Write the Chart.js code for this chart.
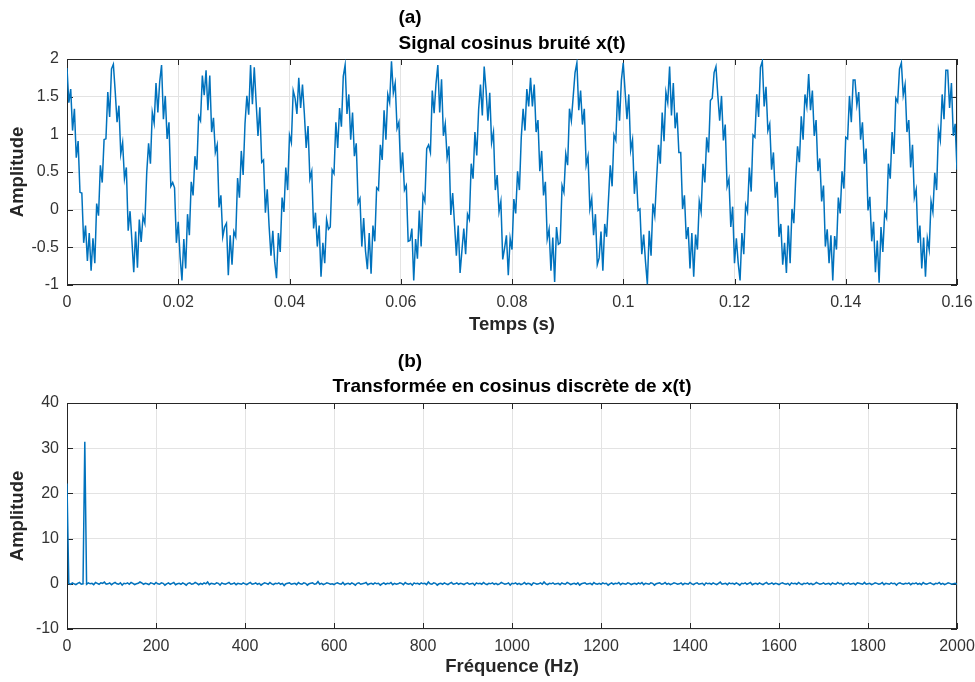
<!DOCTYPE html>
<html>
<head>
<meta charset="utf-8">
<title>Signal cosinus bruité et DCT</title>
<script src="https://cdn.jsdelivr.net/npm/chart.js@4.4.0/dist/chart.umd.min.js"></script>
<style>
    html, body { margin: 0; padding: 0; background: #fff; }
    #wrap { position: relative; width: 975px; height: 682px; }
    .panel { position: absolute; left: 0; width: 975px; }
</style>
</head>
<body>
<div id="wrap">
    <div class="panel" style="top:0;height:340px"><canvas id="signalChart" width="975" height="340"></canvas></div>
    <div class="panel" style="top:340px;height:342px"><canvas id="dctChart" width="975" height="342"></canvas></div>
</div>
<script>
// Sampling step of the time signal (s) and of the DCT frequency axis (Hz)
const SAMPLE_STEP = 1 / 3000;
const FREQ_STEP = 4;

// Noisy cosine x(t), one row per period
const signalValues = [
    1.88,1.42,1.60,1.05,1.34,0.69,0.91,0.23,0.22,-0.44,-0.21,-0.68,-0.31,-0.81,-0.38,-0.71,0.08,-0.08,0.59,0.36,0.93,0.94,1.56,1.23,1.87,
    1.93,1.57,1.16,1.38,0.74,0.89,0.41,0.56,-0.28,-0.02,-0.41,-0.83,-0.29,-0.77,-0.13,-0.43,-0.09,-0.18,0.49,0.88,0.61,1.29,1.15,1.68,1.29,
    1.70,1.92,1.20,1.51,0.94,1.16,0.31,0.36,0.29,-0.44,-0.16,-0.63,-0.94,-0.39,-0.78,-0.06,-0.34,0.37,0.19,0.71,0.53,1.24,1.18,1.78,1.52,
    1.85,1.32,1.78,1.03,1.22,0.76,0.86,0.03,0.19,-0.36,-0.23,-0.18,-0.87,-0.34,-0.73,-0.29,-0.36,0.42,0.16,0.78,0.46,1.14,1.51,1.26,1.92,
    1.40,1.89,1.43,0.98,1.36,0.63,0.66,-0.04,0.27,-0.22,-0.61,-0.28,-0.69,-0.91,-0.31,-0.56,0.16,-0.03,0.56,0.26,0.99,0.89,1.58,1.48,1.27,
    1.75,1.35,1.66,1.28,0.82,1.11,0.41,0.51,-0.25,-0.04,-0.49,-0.21,-0.89,-0.44,-0.71,-0.13,-0.26,-0.23,0.53,0.48,1.16,0.82,1.35,1.10,1.77,
    1.92,1.27,1.53,0.93,1.29,0.71,0.88,0.09,0.15,-0.49,-0.11,-0.55,-0.79,-0.31,-0.85,-0.21,-0.42,0.29,0.26,0.86,0.66,1.32,0.93,1.53,1.42,
    1.97,1.55,1.68,1.08,1.16,0.49,0.76,0.26,0.32,-0.42,-0.41,-0.25,-0.94,-0.39,-0.65,-0.01,-0.49,0.19,0.11,0.81,0.86,0.76,1.58,1.28,1.67,
    1.92,1.29,1.73,0.98,1.14,0.69,0.84,-0.07,0.22,-0.19,-0.61,-0.21,-0.84,-0.54,-0.25,-0.59,-0.06,-0.13,0.61,0.41,1.03,0.72,1.33,1.66,1.25,
    1.90,1.59,1.18,1.55,0.89,1.03,0.26,0.46,-0.03,0.11,-0.66,-0.51,-0.34,-0.87,-0.38,-0.53,0.14,-0.05,0.51,0.26,0.96,1.34,1.05,1.60,1.37,
    1.75,1.37,1.66,1.03,1.19,0.51,0.78,0.19,0.37,-0.39,-0.26,-0.81,-0.37,-0.96,-0.23,-0.46,-0.44,0.32,0.23,0.74,0.59,1.34,1.18,1.50,1.82,
    1.95,1.32,1.58,1.13,1.34,0.59,0.71,0.01,0.15,-0.34,-0.06,-0.73,-0.64,-0.29,-0.81,-0.19,-0.36,0.12,0.59,0.31,0.99,0.92,1.58,1.18,1.72,
    1.95,1.57,1.20,1.53,0.79,0.93,0.21,0.51,-0.01,0.01,-0.59,-0.33,-0.69,-0.99,-0.28,-0.61,0.08,-0.08,0.41,0.86,0.61,1.29,0.91,1.56,1.42,
    1.90,1.25,1.68,1.08,1.29,0.76,0.76,0.01,0.19,-0.39,-0.23,-0.78,-0.31,-0.89,-0.33,-0.53,0.11,-0.03,0.61,0.36,0.96,0.76,1.45,1.48,1.82,
    1.90,1.52,1.18,1.51,0.92,1.13,0.31,0.41,-0.23,0.04,-0.71,-0.38,-0.71,-0.94,-0.31,-0.59,0.06,-0.03,0.56,0.24,0.99,0.96,1.53,1.23,1.89,
    1.97,1.37,1.63,1.05,1.14,0.53,0.76,0.16,0.37,-0.36,-0.19,-0.73,-0.44,-0.84,-0.21,-0.71,0.01,-0.18,0.41,0.84,0.63,1.24,0.93,1.53,1.37,
    1.80,1.32,1.58,0.98,1.19,0.51,0.68,0.11,0.32,-0.49,-0.26,-0.71,-0.34,-0.94,-0.35,-0.53,0.16,-0.05,0.51,0.28,0.96,0.94,1.51,1.16,1.72,
    1.72,1.39,1.56,0.93,1.16,0.61,0.81,-0.01,0.17,-0.42,-0.16,-0.83,-0.41,-0.97,-0.23,-0.56,-0.04,-0.11,0.61,0.41,1.03,0.74,1.48,1.43,1.87,
    1.95,1.52,1.66,1.03,1.19,0.56,0.86,0.16,0.27,-0.44,-0.21,-0.78,-0.37,-0.89,-0.38,-0.53,0.11,-0.03,0.49,0.26,1.06,0.92,1.53,1.20,1.85,
    1.85,1.35,1.68,0.98,1.14,0.53
];

// DCT amplitudes, every 4 Hz from 0 to 2000 Hz
const dctValues = [
    22.2,0.1,-0.1,0.2,0,-0.2,0.1,0.3,-0.1,0,31.4,-0.1,0.2,0,0.1,-0.2,0.3,0.1,-0.1,0.2,0.1,0.4,-0.1,0,0.2,
    -0.2,0.1,0.3,0,-0.1,0.2,-0.3,0.1,0,0.2,-0.1,0.3,0.1,-0.2,0,0.1,0.4,0.2,-0.1,0.1,0,-0.2,0.2,0.1,-0.1,
    0.3,0,-0.1,0.2,0.1,-0.3,0,0.2,-0.1,0.1,0.3,-0.2,0,0.1,-0.1,0.2,0,-0.3,0.1,0.2,-0.1,0,0.3,0.1,-0.2,
    0.1,-0.1,0.2,0,0.4,-0.2,0.1,0,-0.1,0.2,0.1,-0.3,0.2,0,-0.1,0.1,0.3,-0.1,0,0.2,-0.2,0.1,0,-0.1,0.2,
    0,-0.2,0.1,0.3,-0.1,0,0.2,-0.1,0.1,-0.3,0,0.2,0.1,-0.1,0.3,0,-0.2,0.1,0,0.2,-0.1,0.1,-0.4,0,0.1,
    0.2,-0.1,0,0.1,-0.2,0.3,0,-0.1,0.2,0.1,-0.3,0,0.1,0.2,-0.1,0,0.5,-0.1,0.1,-0.2,0,0.2,0.1,-0.1,0,
    -0.2,0.1,0.2,0,-0.1,0.3,-0.2,0,0.1,-0.1,0.2,0,-0.3,0.1,0.2,-0.1,0,0.1,0.3,-0.2,0,0.1,-0.1,0.2,0,
    0.1,-0.3,0,0.2,-0.1,0.1,0,0.3,-0.2,0.1,-0.1,0,0.2,0.1,-0.2,0.3,0,-0.1,0.1,-0.3,0.2,0,0.1,-0.1,0.2,
    0,0.1,-0.2,0.4,0,-0.1,0.2,0.1,-0.3,0,0.1,-0.1,0.2,0,-0.2,0.1,0.3,-0.1,0,0.2,-0.1,0.1,0,-0.2,0.1,
    0.2,-0.1,0,0.1,-0.3,0.2,0,0.1,-0.1,0.3,0,-0.2,0.1,0,0.2,-0.1,0.1,-0.2,0,0.3,0.1,-0.1,0,0.2,-0.3,
    0.1,0,0.2,-0.1,0.1,-0.2,0,0.3,-0.1,0.1,0,-0.3,0.2,0.1,-0.1,0,0.2,-0.1,0.4,0,-0.2,0.1,0,0.2,-0.1,
    0,0.1,-0.2,0.2,0,-0.1,0.3,0.1,-0.2,0,0.1,-0.1,0.2,-0.3,0,0.1,0.2,-0.1,0,0.1,-0.2,0.3,0,-0.1,0.1,
    -0.1,0.2,0,0.1,-0.3,0,0.2,-0.1,0.1,0,0.3,-0.2,0.1,0,-0.1,0.2,0.1,-0.2,0,0.1,-0.1,0.2,0,0.3,-0.2,
    0.1,0,-0.1,0.2,0.1,-0.3,0,0.1,0.2,-0.1,0,0.3,-0.1,0.1,-0.2,0,0.2,0.1,-0.1,0,0.2,-0.2,0.1,0,-0.1,
    0.3,0,-0.2,0.1,0.2,-0.1,0,0.1,-0.3,0.2,0,0.1,-0.1,0.2,0,-0.2,0.1,0.4,-0.1,0,0.1,-0.2,0.2,0,0.1,
    -0.1,0.2,0,-0.3,0.1,0,0.2,-0.1,0.1,0.3,-0.2,0,0.1,-0.1,0.2,0,-0.2,0.1,0.3,-0.1,0,0.2,-0.1,0.1,0,
    -0.2,0.1,0.2,0,-0.1,0.1,-0.3,0.2,0,0.1,-0.1,0.3,0,-0.2,0.1,0,0.2,-0.1,0.1,-0.2,0,0.3,0.1,-0.1,0,
    0.2,-0.1,0,0.1,-0.2,0.2,0,-0.1,0.3,0,0.1,-0.3,0.1,0,0.2,-0.1,0,0.1,-0.2,0.2,0.1,0,-0.1,0.3,-0.1,
    0,0.1,-0.2,0,0.2,0.1,-0.1,0,0.3,-0.2,0.1,0,-0.1,0.2,0,0.1,-0.3,0.1,0.2,0,-0.1,0.1,0,0.2,-0.2,
    0.1,0,0.2,-0.1,0.1,-0.2,0.3,0,-0.1,0.1,0.2,0,-0.2,0.1,0,0.3,-0.1,0.1,-0.2,0,0.2,0.1,-0.1,0,0.1,
    -0.1
];

// Tick positions
const timeTicks = [0, 0.02, 0.04, 0.06, 0.08, 0.1, 0.12, 0.14, 0.16];
const signalAmpTicks = [-1, -0.5, 0, 0.5, 1, 1.5, 2];
const freqTicks = [0, 200, 400, 600, 800, 1000, 1200, 1400, 1600, 1800, 2000];
const dctAmpTicks = [-10, 0, 10, 20, 30, 40];

const FONT = '"Liberation Sans", Arial, Helvetica, sans-serif';
const LINE_BLUE = '#0072BD';
const AXIS_GREY = '#262626';

Chart.defaults.font.family = FONT;
Chart.defaults.color = '#333';
Chart.defaults.animation = false;

// Build {x, y} points from a sampled series
function toPoints(values, step) {
    return values.map((v, i) => ({ x: i * step, y: v }));
}

// Box around the axes with inner tick marks (under the data), then the headings
const axesFrame = {
    id: 'axesFrame',
    beforeDatasetsDraw(chart) {
        const { ctx, chartArea: a } = chart;
        const xs = chart.scales.x;
        const ys = chart.scales.y;
        ctx.save();
        ctx.strokeStyle = AXIS_GREY;
        ctx.lineWidth = 1;
        ctx.beginPath();
        xs.ticks.forEach(t => {
            const px = Math.round(xs.getPixelForValue(t.value)) + 0.5;
            ctx.moveTo(px, a.bottom); ctx.lineTo(px, a.bottom - 6);
            ctx.moveTo(px, a.top); ctx.lineTo(px, a.top + 6);
        });
        ys.ticks.forEach(t => {
            const py = Math.round(ys.getPixelForValue(t.value)) + 0.5;
            ctx.moveTo(a.left, py); ctx.lineTo(a.left + 6, py);
            ctx.moveTo(a.right, py); ctx.lineTo(a.right - 6, py);
        });
        ctx.stroke();
        ctx.strokeRect(Math.round(a.left) + 0.5, Math.round(a.top) + 0.5,
            Math.round(a.width) - 1, Math.round(a.height) - 1);
        ctx.restore();
    },
    afterDraw(chart, args, opts) {
        const { ctx, chartArea: a } = chart;
        ctx.save();
        ctx.fillStyle = '#000';
        ctx.font = 'bold 19px ' + FONT;
        ctx.textAlign = 'center';
        ctx.textBaseline = 'middle';
        const mid = (a.left + a.right) / 2;
        ctx.fillText(opts.tag, mid - 102, opts.tagY);
        ctx.fillText(opts.title, mid, opts.titleY);
        ctx.restore();
    }
};

function makePanel(canvasId, p) {
    const ctx = document.getElementById(canvasId).getContext('2d');
    return new Chart(ctx, {
        type: 'line',
        data: {
            datasets: [{
                data: p.points,
                borderColor: LINE_BLUE,
                borderWidth: 1.5,
                pointRadius: 0,
                tension: 0,
                fill: false
            }]
        },
        options: {
            responsive: false,
            devicePixelRatio: 1,
            layout: { padding: { left: 0, right: 18, top: p.top, bottom: 0 } },
            plugins: {
                legend: { display: false },
                tooltip: { enabled: false },
                axesFrame: { tag: p.tag, tagY: p.tagY, title: p.title, titleY: p.titleY }
            },
            scales: {
                x: {
                    type: 'linear',
                    min: p.xTicks[0],
                    max: p.xTicks[p.xTicks.length - 1],
                    afterBuildTicks: s => { s.ticks = p.xTicks.map(v => ({ value: v })); },
                    // fixed axis height; end labels may overhang into the page margin
                    afterFit: s => { s.height = p.xAxisHeight; s.paddingLeft = 0; s.paddingRight = 0; },
                    grid: { color: '#e3e3e3', drawTicks: false },
                    border: { display: false },
                    ticks: { padding: 8, maxRotation: 0, autoSkip: false, font: { size: 16 },
                        callback: v => String(v) },
                    title: { display: true, text: p.xLabel, color: AXIS_GREY,
                        font: { size: 18.5, weight: 'bold' }, padding: { top: 0, bottom: 4 } }
                },
                y: {
                    type: 'linear',
                    min: p.yTicks[0],
                    max: p.yTicks[p.yTicks.length - 1],
                    afterBuildTicks: s => { s.ticks = p.yTicks.map(v => ({ value: v })); },
                    afterFit: s => { s.width = 67; s.paddingTop = 0; s.paddingBottom = 0; },
                    grid: { color: '#e3e3e3', drawTicks: false },
                    border: { display: false },
                    ticks: { padding: 8, font: { size: 16 }, callback: v => String(v) },
                    title: { display: true, text: 'Amplitude', color: AXIS_GREY,
                        font: { size: 18.5, weight: 'bold' }, padding: { top: 7, bottom: 0 } }
                }
            }
        },
        plugins: [axesFrame]
    });
}

document.addEventListener('DOMContentLoaded', () => {
    makePanel('signalChart', {
        points: toPoints(signalValues, SAMPLE_STEP),
        xTicks: timeTicks, yTicks: signalAmpTicks,
        xLabel: 'Temps (s)', xAxisHeight: 55, top: 59,
        tag: '(a)', tagY: 18, title: 'Signal cosinus bruité x(t)', titleY: 44
    });
    makePanel('dctChart', {
        points: toPoints(dctValues, FREQ_STEP),
        xTicks: freqTicks, yTicks: dctAmpTicks,
        xLabel: 'Fréquence (Hz)', xAxisHeight: 53, top: 63,
        tag: '(b)', tagY: 22, title: 'Transformée en cosinus discrète de x(t)', titleY: 47
    });
});
</script>
</body>
</html>
